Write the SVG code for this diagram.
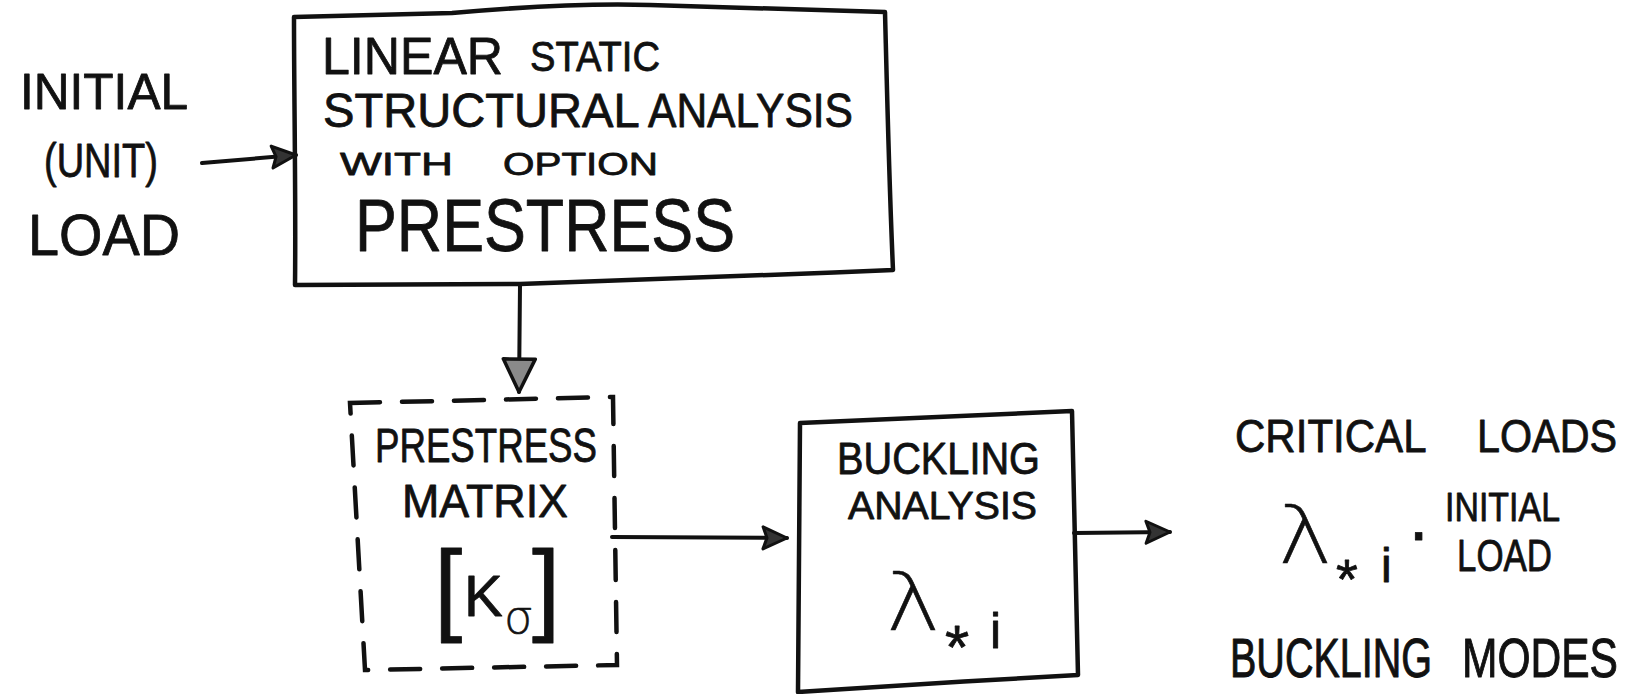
<svg xmlns="http://www.w3.org/2000/svg" width="1637" height="694" viewBox="0 0 1637 694">
  <style>
    .ink { fill: none; stroke: #111; stroke-width: 4.5; stroke-linejoin: round; stroke-linecap: round; }
    .dash { fill: none; stroke: #111; stroke-width: 4.5; stroke-linecap: round; stroke-dasharray: 30 22; }
    .wire { fill: none; stroke: #111; stroke-width: 4; stroke-linecap: round; }
    text { font-family: "Liberation Sans", "DejaVu Sans", sans-serif; fill: #111; stroke: #111; stroke-width: 0.8; stroke-linejoin: round; }
    .greek { font-family: "DejaVu Sans", "Liberation Sans", sans-serif; font-weight: 200; stroke-width: 0.6; }
  </style>
  <defs>
    <marker id="head" viewBox="0 0 30 28" refX="27" refY="14" markerWidth="30" markerHeight="28" markerUnits="userSpaceOnUse" orient="auto">
      <path d="M3,3 L27,14 L3,25 L7,14 Z" fill="#333" stroke="#111" stroke-width="3" stroke-linejoin="round"/>
    </marker>
    <marker id="head-open" viewBox="0 0 38 36" refX="35" refY="18" markerWidth="38" markerHeight="36" markerUnits="userSpaceOnUse" orient="auto">
      <path d="M2,2 L35,18 L2,34 Z" fill="#8a8a8a" stroke="#111" stroke-width="3.5" stroke-linejoin="round"/>
    </marker>
  </defs>

  <rect width="1637" height="694" fill="#fff"/>

  <!-- connectors -->
  <g id="connectors">
    <path class="wire" d="M202,163 L296,155" marker-end="url(#head)"/>
    <path class="wire" d="M520,285 L519,392" marker-end="url(#head-open)"/>
    <path class="wire" d="M612,537 L787,538" marker-end="url(#head)"/>
    <path class="wire" d="M1074,533 L1170,532" marker-end="url(#head)"/>
  </g>

  <!-- input load label -->
  <g id="node-initial-load">
    <text x="20" y="109" font-size="50" textLength="168" lengthAdjust="spacingAndGlyphs">INITIAL</text>
    <text x="44" y="177" font-size="48" textLength="114" lengthAdjust="spacingAndGlyphs">(UNIT)</text>
    <text x="28" y="255" font-size="58" textLength="152" lengthAdjust="spacingAndGlyphs">LOAD</text>
  </g>

  <!-- linear static analysis block -->
  <g id="node-linear-static">
    <path class="ink" d="M294,17 C360,15 420,14 452,13 C520,7 590,3 650,5 C740,8 820,10 885,12 C887,90 889,180 893,270 C760,276 620,280 520,284 C430,285 350,285 295,285 C296,200 294,100 294,17 Z"/>
    <text y="74"><tspan x="322" font-size="52" textLength="181" lengthAdjust="spacingAndGlyphs">LINEAR</tspan> <tspan x="530" y="71" font-size="42" textLength="130" lengthAdjust="spacingAndGlyphs">STATIC</tspan></text>
    <text y="127" font-size="48"><tspan x="323" textLength="315" lengthAdjust="spacingAndGlyphs">STRUCTURAL</tspan> <tspan x="648" textLength="205" lengthAdjust="spacingAndGlyphs">ANALYSIS</tspan></text>
    <text y="175" font-size="32"><tspan x="340" textLength="113" lengthAdjust="spacingAndGlyphs">WITH</tspan> <tspan x="503" textLength="155" lengthAdjust="spacingAndGlyphs">OPTION</tspan></text>
    <text x="355" y="251" font-size="74" textLength="380" lengthAdjust="spacingAndGlyphs">PRESTRESS</text>
  </g>

  <!-- prestress matrix (dashed) -->
  <g id="node-prestress-matrix">
    <path class="dash" d="M350,403 L613,397 L617,665 L365,670 Z"/>
    <text x="375" y="462" font-size="48" textLength="222" lengthAdjust="spacingAndGlyphs">PRESTRESS</text>
    <text x="402" y="517" font-size="47" textLength="166" lengthAdjust="spacingAndGlyphs">MATRIX</text>
    <text><tspan x="434" y="622" font-size="102">[</tspan><tspan x="464" y="616" font-size="58">K</tspan><tspan class="greek" x="504" y="633" font-size="46">σ</tspan><tspan x="532" y="622" font-size="102">]</tspan></text>
  </g>

  <!-- buckling analysis block -->
  <g id="node-buckling">
    <path class="ink" d="M800,423 C890,419 980,415 1072,411 C1074,500 1076,590 1078,675 C985,680 890,686 798,692 C799,600 800,510 800,423 Z"/>
    <text x="837" y="474" font-size="44" textLength="203" lengthAdjust="spacingAndGlyphs">BUCKLING</text>
    <text x="848" y="519" font-size="38" textLength="189" lengthAdjust="spacingAndGlyphs">ANALYSIS</text>
    <text><tspan class="greek" x="886" y="630" font-size="80" textLength="54" lengthAdjust="spacingAndGlyphs">λ</tspan><tspan x="945" y="668" font-size="62">*</tspan><tspan x="990" y="648" font-size="50">i</tspan></text>
  </g>

  <!-- results -->
  <g id="node-results">
    <text y="452" font-size="46"><tspan x="1235" textLength="190" lengthAdjust="spacingAndGlyphs">CRITICAL</tspan> <tspan x="1477" textLength="140" lengthAdjust="spacingAndGlyphs">LOADS</tspan></text>
    <text><tspan class="greek" x="1278" y="563" font-size="80" textLength="54" lengthAdjust="spacingAndGlyphs">λ</tspan><tspan x="1336" y="598" font-size="56">*</tspan><tspan x="1381" y="582" font-size="48">i</tspan><tspan x="1407" y="555" font-size="70">·</tspan></text>
    <text x="1445" y="521" font-size="40" textLength="115" lengthAdjust="spacingAndGlyphs">INITIAL</text>
    <text x="1457" y="571" font-size="44" textLength="95" lengthAdjust="spacingAndGlyphs">LOAD</text>
    <text transform="translate(0,677) scale(1,1.25)" y="0" font-size="44"><tspan x="1230" textLength="202" lengthAdjust="spacingAndGlyphs">BUCKLING</tspan> <tspan x="1462" textLength="156" lengthAdjust="spacingAndGlyphs">MODES</tspan></text>
  </g>
</svg>
